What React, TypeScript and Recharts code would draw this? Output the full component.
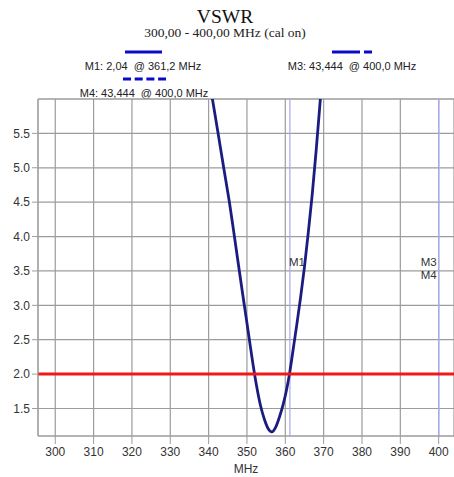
import React from "react";
import {
  LineChart,
  Line,
  XAxis,
  YAxis,
  CartesianGrid,
  ReferenceLine,
  Label,
} from "recharts";

// trace (MHz / VSWR)
const freqs = [
  340.6, 341.5, 342.5, 343.5, 344.5, 345.5, 346.5, 347.5, 348.5, 349.5, 350.5,
  351.5, 352.5, 353.5, 354.5, 355.5, 356.5, 357.5, 358.5, 359.5, 360.5, 361.2,
  362, 363, 364, 365, 366, 367, 368, 369, 369.5, 400,
];
const vswr = [
  6.13, 5.83, 5.49, 5.15, 4.81, 4.47, 4.09, 3.7, 3.31, 2.93, 2.55, 2.17, 1.83,
  1.55, 1.35, 1.21, 1.16, 1.23, 1.38, 1.57, 1.82, 2.04, 2.34, 2.72, 3.12, 3.56,
  4.06, 4.6, 5.22, 5.9, 6.25, 43.444,
];

const xTicks = [300, 310, 320, 330, 340, 350, 360, 370, 380, 390, 400];
const yTicks = [1.5, 2.0, 2.5, 3.0, 3.5, 4.0, 4.5, 5.0, 5.5];
const xMinor = Array.from({ length: 54 }, (_, i) => 296 + i * 2);
const yMinor = Array.from({ length: 50 }, (_, i) => Math.round((1.1 + i * 0.1) * 10) / 10);

const limit = 2.0;

const markerNames = ["M1", "M3", "M4"];
const markerFreqs = [361.2, 400.0, 400.0];
const markerValues = ["2,04", "43,444", "43,444"];

const data = freqs.map((f, i) => ({ f, v: vswr[i] }));

const sans = "'Liberation Sans', Arial, sans-serif";
const serif = "'Liberation Serif', 'Times New Roman', serif";
const gridColor = "#9c9c9c";

const legendText = (i: number) =>
  `${markerNames[i]}: ${markerValues[i]}  @ ${markerFreqs[i].toFixed(1).replace(".", ",")} MHz`;

const markerLabel = (name: string, row: number, side: "left" | "right") => (props: any) => {
  const vb = props.viewBox || {};
  const x = side === "right" ? vb.x - 1 : vb.x - 2;
  const y = vb.y + vb.height * 0.497 + row * 13;
  return (
    <text
      x={x}
      y={y}
      textAnchor={side === "right" ? "start" : "end"}
      fontFamily={sans}
      fontSize={11.5}
      fill="#333"
    >
      {name}
    </text>
  );
};

const LegendBar = ({ dash }: { dash: string }) => {
  if (dash === "solid")
    return (
      <svg width={37} height={4} style={{ display: "block", margin: "0 auto" }}>
        <line x1={0} y1={2} x2={37} y2={2} stroke="#0a0ac8" strokeWidth={3} />
      </svg>
    );
  if (dash === "dash")
    return (
      <svg width={43} height={4} style={{ display: "block", margin: "0 auto" }}>
        <line x1={0} y1={2} x2={43} y2={2} stroke="#0a0ac8" strokeWidth={3} strokeDasharray="8 3.7" />
      </svg>
    );
  return (
    <svg width={40} height={4} style={{ display: "block", margin: "0 auto" }}>
      <line x1={0} y1={2} x2={28} y2={2} stroke="#0a0ac8" strokeWidth={3} />
      <line x1={32} y1={2} x2={40} y2={2} stroke="#0a0ac8" strokeWidth={3} />
    </svg>
  );
};

const LegendItem = ({ i, cx, top, dash }: { i: number; cx: number; top: number; dash: string }) => (
  <div style={{ position: "absolute", left: cx - 100, top, width: 200, textAlign: "center" }}>
    <LegendBar dash={dash} />
    <div
      style={{
        fontFamily: sans,
        fontSize: 11,
        lineHeight: "13px",
        color: "#222",
        whiteSpace: "pre",
        marginTop: 6,
      }}
    >
      {legendText(i)}
    </div>
  </div>
);

const App = () => {
  return (
    <div style={{ position: "absolute", left: 0, top: 0, width: 454, height: 477, background: "#fff" }}>
      <div
        style={{
          position: "absolute",
          left: 0,
          width: 450,
          top: 7,
          textAlign: "center",
          fontFamily: serif,
          fontSize: 19.5,
          lineHeight: "20px",
          color: "#111",
        }}
      >
        VSWR
      </div>
      <div
        style={{
          position: "absolute",
          left: 0,
          width: 450,
          top: 26,
          textAlign: "center",
          fontFamily: serif,
          fontSize: 13.5,
          lineHeight: "14px",
          color: "#222",
        }}
      >
        300,00 - 400,00 MHz (cal on)
      </div>
      <LegendItem i={0} cx={143} top={50} dash="solid" />
      <LegendItem i={2} cx={144} top={77} dash="dash" />
      <LegendItem i={1} cx={352} top={50} dash="dashdot" />

      <div style={{ position: "absolute", left: 0, top: 0 }}>
        <LineChart
          width={454}
          height={477}
          data={data}
          margin={{ top: 99, right: 0, bottom: 40, left: 37 }}
        >
          <CartesianGrid stroke={gridColor} strokeWidth={1.2} />
          <XAxis
            dataKey="f"
            type="number"
            domain={[295.5, 404]}
            ticks={xTicks}
            allowDataOverflow
            height={1}
            tickSize={8}
            tickMargin={3}
            tickLine={{ stroke: gridColor }}
            axisLine={{ stroke: gridColor }}
            tick={{ fontFamily: sans, fontSize: 12, fill: "#333" }}
          >
            <Label
              value="MHz"
              position="bottom"
              offset={27}
              style={{ fontFamily: sans, fontSize: 12, fill: "#333" }}
            />
          </XAxis>
          <XAxis
            xAxisId="minor"
            dataKey="f"
            type="number"
            domain={[295.5, 404]}
            ticks={xMinor}
            allowDataOverflow
            height={1}
            mirror
            tick={false}
            tickSize={4}
            tickLine={{ stroke: gridColor }}
            axisLine={false}
          />
          <YAxis
            type="number"
            domain={[1.1, 6.0]}
            ticks={yTicks}
            allowDataOverflow
            width={1}
            tickSize={6}
            tickMargin={2}
            tickFormatter={(v: number) => v.toFixed(1)}
            tickLine={{ stroke: gridColor }}
            axisLine={{ stroke: gridColor }}
            tick={{ fontFamily: sans, fontSize: 12, fill: "#333" }}
          />
          <YAxis
            yAxisId="minor"
            type="number"
            domain={[1.1, 6.0]}
            ticks={yMinor}
            allowDataOverflow
            width={1}
            mirror
            tick={false}
            tickSize={5}
            tickLine={{ stroke: gridColor }}
            axisLine={false}
          />
          <ReferenceLine y={6.0} stroke={gridColor} strokeWidth={1.2} />
          <ReferenceLine x={markerFreqs[0]} stroke="#a8a8ec" strokeWidth={1.2}>
            <Label content={markerLabel(markerNames[0], 0, "right")} />
          </ReferenceLine>
          <ReferenceLine x={markerFreqs[1]} stroke="#a8a8ec" strokeWidth={1.2}>
            <Label content={markerLabel(markerNames[1], 0, "left")} />
          </ReferenceLine>
          <ReferenceLine x={markerFreqs[2]} stroke="#a8a8ec" strokeWidth={1.2}>
            <Label content={markerLabel(markerNames[2], 1, "left")} />
          </ReferenceLine>
          <Line
            dataKey="v"
            type="monotone"
            stroke="#1c1c80"
            strokeWidth={2.8}
            dot={false}
            isAnimationActive={false}
          />
          <ReferenceLine y={limit} stroke="#ee1a1a" strokeWidth={3} />
        </LineChart>
      </div>
    </div>
  );
};

export default App;
